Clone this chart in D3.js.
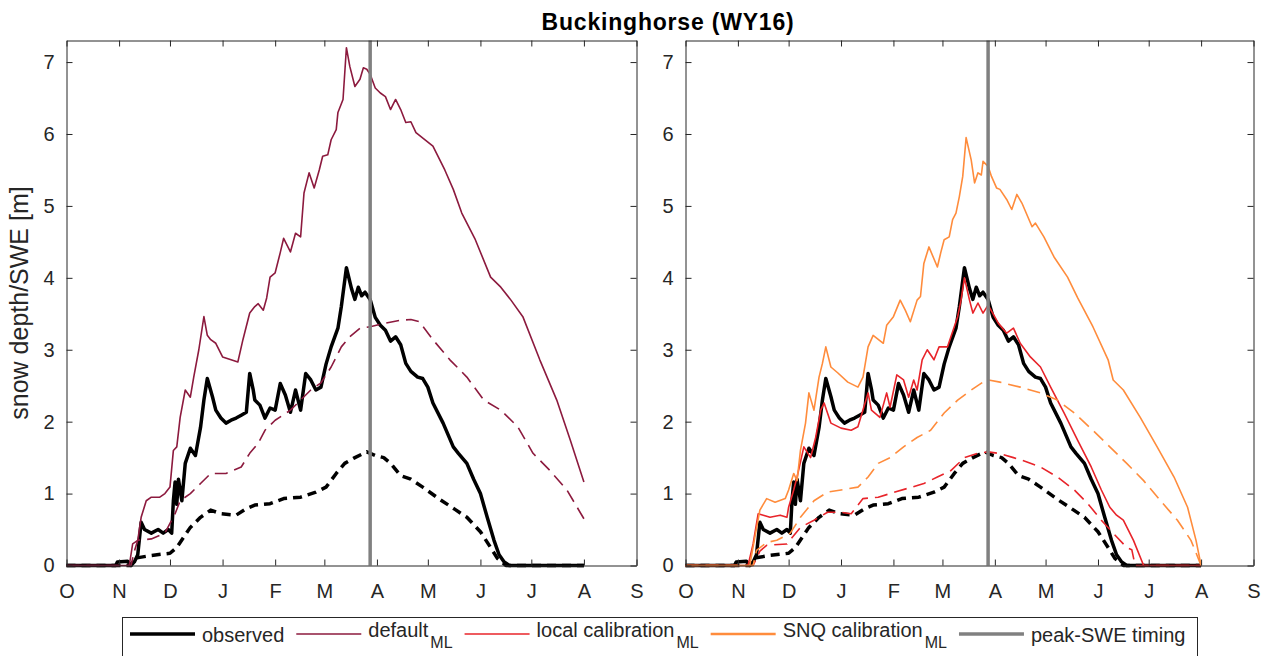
<!DOCTYPE html>
<html>
<head>
<meta charset="utf-8">
<script src="https://cdn.jsdelivr.net/npm/d3@7"></script>
<style>
  body { margin: 0; background: #fff; }
  svg { display: block; font-family: "Liberation Sans", Arial, sans-serif; }
</style>
</head>
<body>
<svg id="chart" width="1265" height="656"></svg>
<script>
// water year 2016, days counted from 1 Oct 2015
const startDate = new Date(2015, 9, 1);
const endDate = new Date(2016, 8, 1);
const monthLabels = ["O", "N", "D", "J", "F", "M", "A", "M", "J", "J", "A", "S"];
const yTicks = [0, 1, 2, 3, 4, 5, 6, 7];
const yMax = 7.3;
const peakDay = 179;

const obsDepth = [[0,0],[29,0],[30,0.05],[36,0.06],[38,0],[40,0.05],[42,0.15],[44,0.6],[46,0.5],[50,0.45],[54,0.5],[57,0.45],[60,0.5],[62,0.45],[63,0.9],[64,1.16],[65,0.85],[66,1.2],[68,0.9],[70,1.42],[73,1.63],[76,1.53],[79,1.92],[81,2.3],[83,2.6],[86,2.35],[88,2.16],[91,2.05],[94,1.98],[97,2.02],[100,2.05],[103,2.09],[106,2.13],[108,2.67],[110,2.45],[111,2.3],[114,2.23],[117,2.05],[120,2.19],[123,2.16],[126,2.53],[129,2.37],[132,2.13],[135,2.44],[138,2.16],[141,2.67],[144,2.58],[147,2.44],[150,2.48],[153,2.8],[156,3.04],[160,3.3],[162,3.6],[165,4.14],[168,3.85],[170,3.7],[172,3.87],[174,3.75],[176,3.8],[179,3.7],[182,3.45],[185,3.34],[188,3.27],[191,3.12],[194,3.18],[197,3.07],[200,2.81],[203,2.7],[207,2.62],[210,2.6],[213,2.48],[216,2.26],[222,1.98],[228,1.65],[231,1.56],[236,1.42],[240,1.2],[244,1.0],[248,0.67],[252,0.35],[255,0.15],[258,0.05],[261,0],[305,0]];
const obsSWE = [[0,0],[38,0],[40,0.1],[50,0.14],[61,0.17],[65,0.25],[69,0.39],[73,0.53],[79,0.67],[85,0.77],[91,0.72],[100,0.7],[106,0.79],[111,0.84],[120,0.86],[128,0.93],[138,0.95],[147,1.02],[153,1.09],[159,1.28],[164,1.42],[170,1.5],[177,1.58],[182,1.53],[187,1.5],[191,1.42],[197,1.25],[203,1.2],[210,1.09],[220,0.92],[229,0.78],[236,0.67],[244,0.47],[250,0.25],[254,0.1],[259,0],[305,0]];

const defDepth = [[0,0],[37,0],[39,0.3],[42,0.35],[44,0.67],[47,0.9],[50,0.95],[55,0.95],[58,1.0],[61,1.09],[63,1.6],[65,1.65],[67,2.06],[70,2.44],[73,2.34],[75,2.62],[78,3.0],[81,3.46],[83,3.2],[85,3.14],[88,3.09],[92,2.9],[97,2.86],[101,2.83],[104,3.14],[108,3.51],[111,3.6],[113,3.64],[116,3.55],[118,3.72],[120,4.01],[123,4.07],[126,4.35],[128,4.55],[132,4.36],[135,4.62],[138,4.57],[140,5.18],[143,5.46],[146,5.25],[149,5.5],[151,5.69],[154,5.71],[156,5.92],[159,6.06],[160,6.3],[163,6.48],[165,7.2],[167,6.94],[170,6.66],[173,6.76],[175,6.92],[177,6.9],[179,6.83],[182,6.64],[185,6.57],[188,6.52],[191,6.34],[194,6.48],[197,6.34],[200,6.16],[203,6.17],[206,6.02],[216,5.83],[223,5.5],[228,5.23],[233,4.9],[241,4.53],[250,4.01],[256,3.87],[262,3.69],[269,3.46],[279,2.86],[289,2.3],[297,1.74],[305,1.16]];
const defSWE = [[0,0],[38,0],[40,0.2],[42,0.35],[50,0.37],[58,0.45],[64,0.72],[67,0.9],[73,1.0],[79,1.14],[85,1.28],[94,1.28],[103,1.37],[108,1.56],[113,1.7],[117,1.88],[123,2.02],[132,2.16],[138,2.3],[144,2.44],[150,2.54],[156,2.76],[162,3.04],[167,3.18],[173,3.3],[179,3.32],[188,3.37],[197,3.41],[203,3.42],[208,3.39],[216,3.14],[226,2.86],[236,2.62],[246,2.3],[256,2.16],[266,1.93],[275,1.56],[285,1.32],[295,1.05],[305,0.65]];

const locDepth = [[0,0],[37,0],[40,0.3],[43,0.72],[46,0.7],[50,0.67],[56,0.7],[60,0.67],[61,0.81],[64,1.05],[66,1.23],[70,1.65],[74,1.5],[77,1.78],[80,2.16],[82,2.26],[86,1.98],[92,1.91],[98,1.88],[102,1.93],[108,2.4],[110,2.16],[115,2.06],[119,2.4],[121,2.2],[125,2.65],[129,2.58],[132,2.34],[135,2.58],[137,2.44],[140,2.86],[143,3.0],[147,2.86],[150,3.04],[155,3.04],[159,3.32],[161,3.46],[163,3.69],[165,4.0],[168,3.69],[170,3.51],[173,3.65],[176,3.51],[179,3.62],[182,3.5],[185,3.37],[190,3.23],[194,3.3],[198,3.09],[204,2.9],[210,2.76],[216,2.48],[224,2.12],[232,1.74],[240,1.37],[246,1.05],[251,0.81],[255,0.7],[259,0.63],[265,0.35],[271,0],[305,0]];
const locSWE = [[0,0],[40,0],[44,0.2],[48,0.28],[60,0.3],[68,0.53],[76,0.63],[84,0.74],[92,0.74],[98,0.72],[105,0.93],[114,0.95],[121,1.0],[131,1.07],[141,1.14],[149,1.23],[157,1.32],[165,1.5],[173,1.56],[179,1.58],[185,1.56],[194,1.5],[202,1.44],[210,1.37],[220,1.23],[230,1.05],[238,0.86],[246,0.63],[253,0.45],[261,0.25],[264,0.22],[266,0],[305,0]];

const snqDepth = [[0,0],[38,0],[41,0.39],[44,0.77],[48,0.93],[53,0.88],[59,0.93],[61,1.05],[64,1.28],[66,1.18],[68,1.6],[71,1.98],[73,2.4],[76,2.16],[79,2.62],[81,2.81],[83,3.04],[86,2.76],[90,2.68],[96,2.55],[102,2.48],[105,2.62],[108,3.04],[111,3.2],[117,3.09],[119,3.34],[123,3.46],[127,3.69],[130,3.55],[133,3.39],[137,3.69],[139,3.74],[141,4.2],[144,4.43],[149,4.15],[151,4.35],[153,4.53],[156,4.57],[158,4.81],[160,4.9],[162,5.13],[164,5.41],[166,5.95],[169,5.64],[171,5.32],[173,5.46],[175,5.43],[176,5.62],[179,5.55],[181,5.41],[184,5.25],[186,5.23],[190,5.09],[193,4.95],[196,5.16],[199,5.04],[205,4.71],[207,4.76],[212,4.57],[218,4.29],[226,4.01],[232,3.72],[241,3.32],[250,2.86],[253,2.58],[259,2.44],[269,2.06],[279,1.65],[289,1.23],[297,0.81],[302,0.35],[305,0]];
const snqSWE = [[0,0],[40,0],[42,0.21],[48,0.32],[54,0.35],[62,0.45],[68,0.67],[76,0.9],[84,1.02],[92,1.05],[102,1.09],[108,1.23],[114,1.42],[121,1.5],[129,1.65],[137,1.78],[145,1.88],[153,2.12],[161,2.3],[169,2.44],[176,2.55],[179,2.58],[186,2.55],[198,2.48],[210,2.4],[220,2.3],[230,2.12],[241,1.88],[251,1.65],[261,1.42],[271,1.18],[281,0.9],[291,0.63],[299,0.35],[305,0]];

const colObs = "#000000";
const colDef = "#8c1a3e";
const colLoc = "#e8242a";
const colSnq = "#ff8c3c";
const colPeak = "#808080";
const axisCol = "#262626";

const svg = d3.select("#chart");
const margin = {top: 40.5, bottom: 565.5};

const y = d3.scaleLinear().domain([0, yMax]).range([margin.bottom, margin.top]);

const panels = [
  {left: 66.5, right: 636.5, lines: [
    {data: obsDepth, color: colObs, w: 3.5},
    {data: obsSWE, color: colObs, w: 3.5, dash: "9,6"},
    {data: defDepth, color: colDef, w: 1.6},
    {data: defSWE, color: colDef, w: 1.6, dash: "13,7"}
  ]},
  {left: 685.5, right: 1253.5, lines: [
    {data: obsDepth, color: colObs, w: 3.5},
    {data: obsSWE, color: colObs, w: 3.5, dash: "9,6"},
    {data: locDepth, color: colLoc, w: 1.6},
    {data: locSWE, color: colLoc, w: 1.6, dash: "13,7"},
    {data: snqDepth, color: colSnq, w: 1.6},
    {data: snqSWE, color: colSnq, w: 1.6, dash: "13,7"}
  ]}
];

const toDate = d => d3.timeDay.offset(startDate, d);
const months = d3.timeMonth.range(startDate, d3.timeDay.offset(endDate, 1));

panels.forEach(p => {
  const x = d3.scaleTime().domain([startDate, endDate]).range([p.left, p.right]);
  const g = svg.append("g");

  const line = d3.line()
    .x(d => x(toDate(d[0])))
    .y(d => y(d[1]));

  p.lines.forEach(l => {
    g.append("path")
      .attr("d", line(l.data))
      .attr("fill", "none")
      .attr("stroke", l.color)
      .attr("stroke-width", l.w)
      .attr("stroke-linejoin", "round")
      .attr("stroke-dasharray", l.dash || null);
  });

  // peak-SWE timing
  g.append("line")
    .attr("x1", x(toDate(peakDay))).attr("x2", x(toDate(peakDay)))
    .attr("y1", y(yMax)).attr("y2", y(0))
    .attr("stroke", colPeak)
    .attr("stroke-width", 3.5);

  const xb = g.append("g")
    .attr("transform", `translate(0,${margin.bottom})`)
    .call(d3.axisBottom(x).tickValues(months).tickSizeInner(-6).tickSizeOuter(0)
      .tickPadding(18).tickFormat((d, i) => monthLabels[i]));
  const xt = g.append("g")
    .attr("transform", `translate(0,${margin.top})`)
    .call(d3.axisTop(x).tickValues(months).tickSizeInner(-6).tickSizeOuter(0).tickFormat(""));
  const yl = g.append("g")
    .attr("transform", `translate(${p.left},0)`)
    .call(d3.axisLeft(y).tickValues(yTicks).tickSizeInner(-6).tickSizeOuter(0).tickPadding(12));
  const yr = g.append("g")
    .attr("transform", `translate(${p.right},0)`)
    .call(d3.axisRight(y).tickValues(yTicks).tickSizeInner(-6).tickSizeOuter(0).tickFormat(""));

  [xb, xt, yl, yr].forEach(a => {
    a.selectAll("path, line").attr("stroke", axisCol).attr("stroke-width", 1);
    a.selectAll("text").attr("fill", axisCol).style("font-size", "20px")
      .style("font-family", "'Liberation Sans', Arial, sans-serif");
  });
});

svg.append("text")
  .attr("transform", `translate(28,${(margin.top + margin.bottom) / 2}) rotate(-90)`)
  .attr("text-anchor", "middle")
  .attr("fill", axisCol)
  .style("font-size", "25px")
  .text("snow depth/SWE [m]");

svg.append("text")
  .attr("x", 668).attr("y", 30)
  .attr("text-anchor", "middle")
  .attr("fill", "#000")
  .style("font-size", "23px")
  .style("font-weight", "bold")
  .style("letter-spacing", "0.8px")
  .text("Buckinghorse (WY16)");

// legend
const legendItems = [
  {label: "observed", sub: "", color: colObs, w: 3.5},
  {label: "default", sub: "ML", color: colDef, w: 1.6},
  {label: "local calibration", sub: "ML", color: colLoc, w: 1.6},
  {label: "SNQ calibration", sub: "ML", color: colSnq, w: 2.5},
  {label: "peak-SWE timing", sub: "", color: colPeak, w: 3.5}
];

const leg = svg.append("g");
leg.append("rect")
  .attr("x", 122.5).attr("y", 617.5)
  .attr("width", 1075).attr("height", 60)
  .attr("fill", "#fff")
  .attr("stroke", axisCol).attr("stroke-width", 1);

let cx = 130;
legendItems.forEach(it => {
  leg.append("line")
    .attr("x1", cx).attr("x2", cx + 65)
    .attr("y1", 634).attr("y2", 634)
    .attr("stroke", it.color).attr("stroke-width", it.w);
  cx += 72;
  const t = leg.append("text")
    .attr("x", cx).attr("y", it.sub ? 637 : 642)
    .attr("fill", axisCol)
    .style("font-size", "20px")
    .text(it.label);
  cx += t.node().getComputedTextLength();
  if (it.sub) {
    const s = leg.append("text")
      .attr("x", cx + 2).attr("y", 648)
      .attr("fill", axisCol)
      .style("font-size", "16px")
      .text(it.sub);
    cx += s.node().getComputedTextLength() + 2;
  }
  cx += 12;
});
</script>
</body>
</html>
